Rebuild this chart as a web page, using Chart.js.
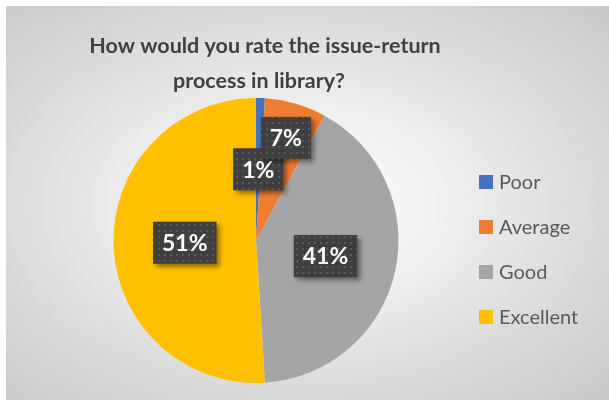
<!DOCTYPE html>
<html>
<head>
<meta charset="utf-8">
<script src="https://cdn.jsdelivr.net/npm/chart.js@4"></script>
<style>
  html, body { margin: 0; padding: 0; background: #fff; }
  #wrap {
    position: absolute; left: 6px; top: 6px; width: 603px; height: 394px;
    background: radial-gradient(ellipse at 48% 50%, #ffffff 0%, #f2f2f2 30%, #d9d9d9 70%, #c8c8c8 100%);
  }
</style>
</head>
<body>
<div id="wrap"><canvas id="ratingChart" width="603" height="394"></canvas></div>
<script>
var categories = ["Poor", "Average", "Good", "Excellent"];
var shares = [1, 7, 41, 51];
var sliceColors = ["#4472C4", "#ED7D31", "#A5A5A5", "#FFC000"];
var titleLines = ["How would you rate the issue-return", "process in library?"];

// dotted dark fill used behind the percentage labels
function makeDots(ctx) {
    var c = document.createElement('canvas');
    c.width = 6; c.height = 6;
    var p = c.getContext('2d');
    p.fillStyle = '#3f3f3f';
    p.fillRect(0, 0, 6, 6);
    p.fillStyle = '#575757';
    p.fillRect(2, 2, 2, 2);
    return ctx.createPattern(c, 'repeat');
}

var extras = {
    id: 'extras',
    afterDatasetsDraw(chart) {
        var ctx = chart.ctx;
        var meta = chart.getDatasetMeta(0);
        var radialPos = [0.5, 0.75, 0.5, 0.5];
        var dots = makeDots(ctx);

        meta.data.forEach((arc, i) => {
            var mid = (arc.startAngle + arc.endAngle) / 2;
            var r = arc.outerRadius * radialPos[i];
            var x = arc.x + Math.cos(mid) * r;
            var y = arc.y + Math.sin(mid) * r;
            var text = shares[i] + '%';
            ctx.save();
            ctx.font = 'bold 23px Lato';
            var w = ctx.measureText(text).width + 18;
            var h = 42;
            ctx.shadowColor = 'rgba(0,0,0,0.45)';
            ctx.shadowBlur = 5;
            ctx.shadowOffsetX = 3;
            ctx.shadowOffsetY = 3;
            ctx.fillStyle = dots;
            ctx.fillRect(x - w / 2, y - h / 2, w, h);
            ctx.restore();
            ctx.save();
            ctx.font = 'bold 23px Lato';
            ctx.fillStyle = '#ffffff';
            ctx.textAlign = 'center';
            ctx.textBaseline = 'middle';
            ctx.fillText(text, x, y + 1);
            ctx.restore();
        });

        // title
        ctx.save();
        ctx.font = 'bold 21.5px Lato';
        ctx.fillStyle = '#404040';
        ctx.textAlign = 'center';
        ctx.textBaseline = 'middle';
        ctx.fillText(titleLines[0], 259, 40);
        ctx.fillText(titleLines[1], 253, 75);
        ctx.restore();

        // legend
        ctx.save();
        ctx.font = '20px Lato';
        ctx.textBaseline = 'middle';
        categories.forEach((name, i) => {
            var y = 176 + i * 45;
            ctx.fillStyle = sliceColors[i];
            ctx.fillRect(473, y - 7, 14, 14);
            ctx.fillStyle = '#595959';
            ctx.fillText(name, 493, y + 1);
        });
        ctx.restore();
    }
};

new Chart("ratingChart", {
    type: "pie",
    data: {
        labels: categories,
        datasets: [{
            data: shares,
            backgroundColor: sliceColors,
            borderWidth: 0
        }]
    },
    options: {
        responsive: false,
        animation: false,
        layout: { padding: { left: 100, right: 203, top: 92, bottom: 17 } },
        plugins: {
            legend: { display: false },
            tooltip: { enabled: false },
            title: { display: false }
        }
    },
    plugins: [extras]
});
</script>
</body>
</html>
